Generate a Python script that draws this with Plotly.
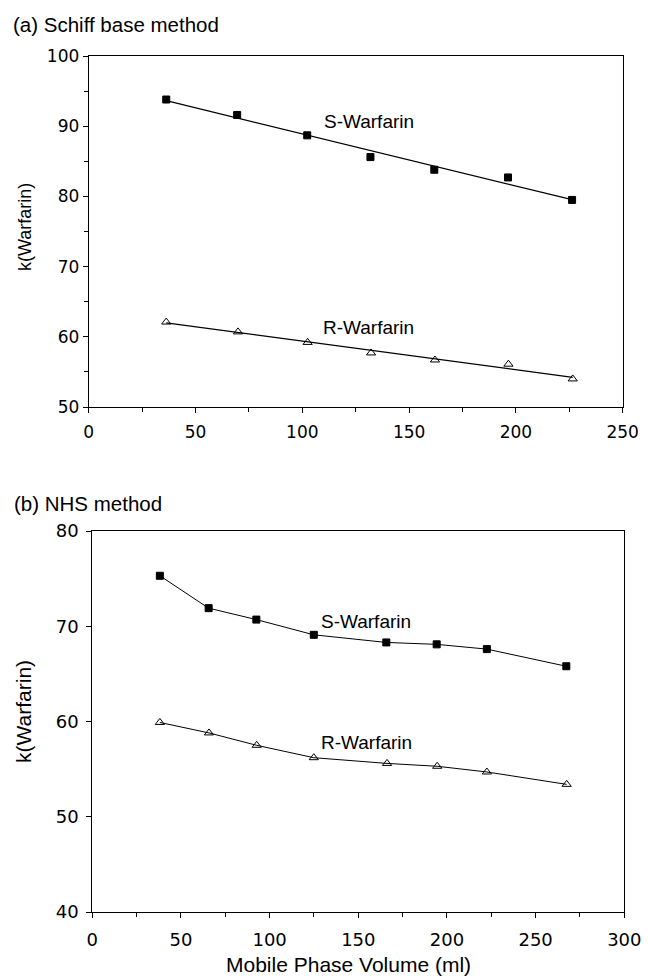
import numpy as np
import plotly.graph_objects as go

# ---- Data ----
# (a) Schiff base method
a_vol_s = [36.3, 69.5, 102.3, 131.9, 161.8, 196.3, 226.3]
a_k_s = [93.8, 91.6, 88.7, 85.6, 83.8, 82.7, 79.5]
a_vol_r = [36.3, 69.9, 102.5, 132.2, 162.1, 196.5, 226.6]
a_k_r = [62.1, 60.7, 59.2, 57.7, 56.7, 56.1, 54.0]

# (b) NHS method
b_vol_s = [38.1, 65.6, 92.5, 124.9, 165.8, 194.2, 222.5, 267.3]
b_k_s = [75.3, 71.9, 70.7, 69.1, 68.3, 68.1, 67.6, 65.8]
b_vol_r = [38.1, 65.8, 92.7, 124.9, 166.2, 194.5, 222.5, 267.5]
b_k_r = [59.9, 58.8, 57.5, 56.2, 55.6, 55.3, 54.7, 53.4]

W, H = 648, 976
fig = go.Figure()

def fit_line(x, y):
    p = np.polyfit(x, y, 1)
    xs = [min(x), max(x)]
    return xs, [p[0] * v + p[1] for v in xs]

# Panel (a): markers + regression lines
for xv, yv, sym in [(a_vol_s, a_k_s, "square"), (a_vol_r, a_k_r, "triangle-up-open")]:
    lx, ly = fit_line(xv, yv)
    fig.add_trace(go.Scatter(x=lx, y=ly, mode="lines", line=dict(color="black", width=1.2),
                             xaxis="x", yaxis="y", showlegend=False, hoverinfo="skip"))
    fig.add_trace(go.Scatter(x=xv, y=yv, mode="markers",
                             marker=dict(symbol=sym, size=7 if sym == "square" else 8,
                                         color="black", line=dict(color="black", width=1)),
                             xaxis="x", yaxis="y", showlegend=False))

# Panel (b): connected lines + markers
for xv, yv, sym in [(b_vol_s, b_k_s, "square"), (b_vol_r, b_k_r, "triangle-up-open")]:
    fig.add_trace(go.Scatter(x=xv, y=yv, mode="lines+markers",
                             line=dict(color="black", width=1),
                             marker=dict(symbol=sym, size=7 if sym == "square" else 8,
                                         color="black", line=dict(color="black", width=1)),
                             xaxis="x2", yaxis="y2", showlegend=False))

LS = "Liberation Sans, Arial, Helvetica, sans-serif"
DV = "DejaVu Sans, Verdana, sans-serif"
fa = dict(family=DV, size=17, color="black")
fb = dict(family=DV, size=18, color="black")

common = dict(showline=True, linecolor="black", linewidth=1, mirror=True,
              ticks="outside", ticklen=5, tickcolor="black", showgrid=False,
              zeroline=False, automargin=False)

fig.update_layout(
    width=W, height=H, margin=dict(l=0, r=0, t=0, b=0, autoexpand=False),
    paper_bgcolor="white", plot_bgcolor="white",
    xaxis=dict(domain=[88.7 / W, 622.7 / W], range=[0, 250], dtick=50, tickfont=fa,
               ticklabelstandoff=5,
               minor=dict(dtick=25, ticks="outside", ticklen=4, tickcolor="black"),
               anchor="y", **common),
    yaxis=dict(domain=[1 - 407 / H, 1 - 56 / H], range=[50, 100], dtick=10, tickfont=fa,
               minor=dict(dtick=5, ticks="outside", ticklen=4, tickcolor="black"),
               anchor="x", **common),
    xaxis2=dict(domain=[92.3 / W, 624.3 / W], range=[0, 300], dtick=50, tickfont=fb,
                ticklabelstandoff=6,
                minor=dict(dtick=25, ticks="outside", ticklen=4, tickcolor="black"),
                anchor="y2", **common),
    yaxis2=dict(domain=[1 - 912 / H, 1 - 531 / H], range=[40, 80], dtick=10, tickfont=fb,
                ticklabelstandoff=4,
                anchor="x2", **common),
    font=dict(family=LS, color="black"),
)

def txt(size):
    return dict(family=LS, size=size, color="black")

annots = [
    dict(text="(a) Schiff base method", xref="paper", yref="paper", x=11 / W, y=1 - 24 / H,
         xanchor="left", yanchor="middle", showarrow=False, font=txt(20.5)),
    dict(text="(b) NHS method", xref="paper", yref="paper", x=12 / W, y=1 - 503 / H,
         xanchor="left", yanchor="middle", showarrow=False, font=txt(20.5)),
    dict(text="k(Warfarin)", xref="paper", yref="paper", x=25 / W, y=1 - 227 / H,
         xanchor="center", yanchor="middle", textangle=-90, showarrow=False, font=txt(18)),
    dict(text="k(Warfarin)", xref="paper", yref="paper", x=23 / W, y=1 - 712 / H,
         xanchor="center", yanchor="middle", textangle=-90, showarrow=False, font=txt(21)),
    dict(text="Mobile Phase Volume (ml)", xref="paper", yref="paper", x=348 / W, y=1 - 964 / H,
         xanchor="center", yanchor="middle", showarrow=False, font=txt(21)),
    dict(text="S-Warfarin", xref="x", yref="y", x=131, y=90.6, showarrow=False, font=txt(19)),
    dict(text="R-Warfarin", xref="x", yref="y", x=131, y=61.3, showarrow=False, font=txt(19)),
    dict(text="S-Warfarin", xref="x2", yref="y2", x=154.5, y=70.5, showarrow=False, font=txt(19)),
    dict(text="R-Warfarin", xref="x2", yref="y2", x=154.5, y=57.8, showarrow=False, font=txt(19)),
]
fig.update_layout(annotations=annots)

fig.write_html("out.html", config={"displayModeBar": False},
               post_script="document.body.style.margin='0';document.body.style.overflow='hidden';")
